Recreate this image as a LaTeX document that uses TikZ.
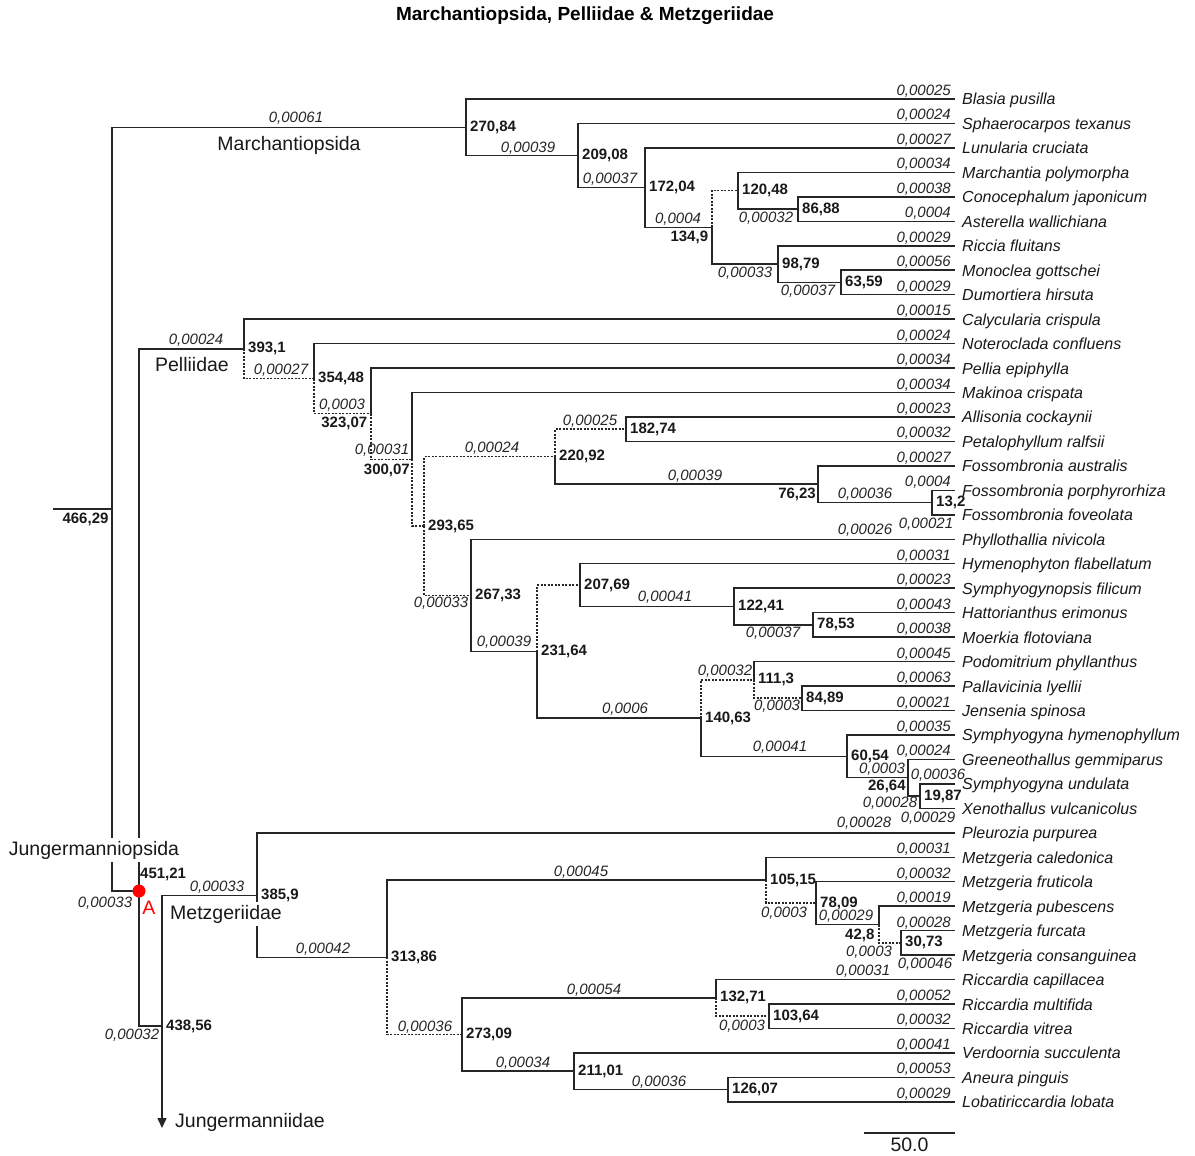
\documentclass[tikz,border=0pt]{standalone}
\usepackage{fontspec}
\setmainfont{Liberation Sans}
\usetikzlibrary{arrows.meta,positioning}

\begin{document}
\begin{tikzpicture}[x=1pt, y=-1pt,
  br/.style={line width=1.5pt, draw=black!85},
  lowsup/.style={br, dash pattern=on 2pt off 1.5pt},
  taxon/.style={font=\fontsize{16}{18}\selectfont\itshape, text=black!90, anchor=base west, inner sep=0pt},
  len/.style={font=\fontsize{15}{17}\selectfont\itshape, text=black!85, inner sep=0pt},
  boot/.style={font=\fontsize{15}{17}\selectfont\bfseries, text=black!90, inner sep=0pt},
  clade/.style={font=\fontsize{19.5}{22}\selectfont, text=black!90, fill=white, inner xsep=2pt, inner ysep=3pt}
]
\path[fill=white, use as bounding box] (0,0) rectangle (1195,1156);

\node[font=\fontsize{19}{22}\selectfont\bfseries] (title) at (585,16) {Marchantiopsida, Pelliidae \& Metzgeriidae};

% tips
\foreach \sp [count=\i] in {Blasia pusilla, Sphaerocarpos texanus, Lunularia cruciata,
  Marchantia polymorpha, Conocephalum japonicum, Asterella wallichiana, Riccia fluitans,
  Monoclea gottschei, Dumortiera hirsuta, Calycularia crispula, Noteroclada confluens,
  Pellia epiphylla, Makinoa crispata, Allisonia cockaynii, Petalophyllum ralfsii,
  Fossombronia australis, Fossombronia porphyrorhiza, Fossombronia foveolata,
  Phyllothallia nivicola, Hymenophyton flabellatum, Symphyogynopsis filicum,
  Hattorianthus erimonus, Moerkia flotoviana, Podomitrium phyllanthus, Pallavicinia lyellii,
  Jensenia spinosa, Symphyogyna hymenophyllum, Greeneothallus gemmiparus,
  Symphyogyna undulata, Xenothallus vulcanicolus, Pleurozia purpurea, Metzgeria caledonica,
  Metzgeria fruticola, Metzgeria pubescens, Metzgeria furcata, Metzgeria consanguinea,
  Riccardia capillacea, Riccardia multifida, Riccardia vitrea, Verdoornia succulenta,
  Aneura pinguis, Lobatiriccardia lobata} {
  \coordinate (L\i) at (955,{99+24.46*(\i-1)});
  \node[taxon] (t\i) at ([xshift=7pt, yshift=-6pt]L\i) {\sp};
}

% internal nodes
\coordinate (r0) at (53,509.2);
\coordinate (n466) at (112,509.2);
\coordinate (n270) at (466,127.3);
\coordinate (n209) at (578,155.6);
\coordinate (n172) at (645,187.7);
\coordinate (n134) at (712,227.4);
\coordinate (n120) at (738,190.7);
\coordinate (n86) at (798,209.0);
\coordinate (n98) at (778,264.1);
\coordinate (n63) at (841,282.5);
\coordinate (n451) at (139,891);
\coordinate (n393) at (244,348.9);
\coordinate (n354) at (314,378.6);
\coordinate (n323) at (371,413.6);
\coordinate (n300) at (412,459.3);
\coordinate (n293) at (424,526.0);
\coordinate (n220) at (555,456.7);
\coordinate (n182) at (626,429.2);
\coordinate (n76) at (818,484.2);
\coordinate (n13) at (932,502.6);
\coordinate (n267) at (471,595.4);
\coordinate (n231) at (537,651.6);
\coordinate (n207) at (580,585.1);
\coordinate (n122) at (734,606.5);
\coordinate (n78a) at (813,624.9);
\coordinate (n140) at (701,718.1);
\coordinate (n111) at (754,679.9);
\coordinate (n84) at (802,698.2);
\coordinate (n60) at (847,756.3);
\coordinate (n26) at (908,777.7);
\coordinate (n19) at (920,796.1);
\coordinate (n438) at (162,1026);
\coordinate (jung) at (162,1128);
\coordinate (n385) at (257,895.4);
\coordinate (n313) at (387,957.3);
\coordinate (n105) at (766,880.2);
\coordinate (n78b) at (816,903.1);
\coordinate (n42) at (879,924.5);
\coordinate (n30) at (901,942.8);
\coordinate (n273) at (462,1034.5);
\coordinate (n132) at (716,997.8);
\coordinate (n103) at (769,1016.2);
\coordinate (n211) at (574,1071.2);
\coordinate (n126) at (728,1089.5);

% branches
\draw[br] (r0) -- (n466);
\draw[br] (n466) |- (n270);
\draw[br] (n466) |- (n451);
% Marchantiopsida
\draw[br] (n270) |- (L1);
\draw[br] (n270) |- (n209);
\draw[br] (n209) |- (L2);
\draw[br] (n209) |- (n172);
\draw[br] (n172) |- (L3);
\draw[br] (n172) |- (n134);
\draw[lowsup] (n134) |- (n120);
\draw[br] (n134) |- (n98);
\draw[br] (n120) |- (L4);
\draw[br] (n120) |- (n86);
\draw[br] (n86) |- (L5);
\draw[br] (n86) |- (L6);
\draw[br] (n98) |- (L7);
\draw[br] (n98) |- (n63);
\draw[br] (n63) |- (L8);
\draw[br] (n63) |- (L9);
% Pelliidae
\draw[br] (n451) |- (n393);
\draw[br] (n393) |- (L10);
\draw[lowsup] (n393) |- (n354);
\draw[br] (n354) |- (L11);
\draw[lowsup] (n354) |- (n323);
\draw[br] (n323) |- (L12);
\draw[lowsup] (n323) |- (n300);
\draw[br] (n300) |- (L13);
\draw[lowsup] (n300) |- (n293);
\draw[lowsup] (n293) |- (n220);
\draw[lowsup] (n293) |- (n267);
\draw[lowsup] (n220) |- (n182);
\draw[br] (n220) |- (n76);
\draw[br] (n182) |- (L14);
\draw[br] (n182) |- (L15);
\draw[br] (n76) |- (L16);
\draw[br] (n76) |- (n13);
\draw[br] (n13) |- (L17);
\draw[br] (n13) |- (L18);
\draw[br] (n267) |- (L19);
\draw[br] (n267) |- (n231);
\draw[lowsup] (n231) |- (n207);
\draw[br] (n231) |- (n140);
\draw[br] (n207) |- (L20);
\draw[br] (n207) |- (n122);
\draw[br] (n122) |- (L21);
\draw[br] (n122) |- (n78a);
\draw[br] (n78a) |- (L22);
\draw[br] (n78a) |- (L23);
\draw[lowsup] (n140) |- (n111);
\draw[br] (n140) |- (n60);
\draw[br] (n111) |- (L24);
\draw[lowsup] (n111) |- (n84);
\draw[br] (n84) |- (L25);
\draw[br] (n84) |- (L26);
\draw[br] (n60) |- (L27);
\draw[br] (n60) |- (n26);
\draw[br] (n26) |- (L28);
\draw[br] (n26) |- (n19);
\draw[br] (n19) |- (L29);
\draw[br] (n19) |- (L30);
% Metzgeriidae
\draw[br] (n451) |- (n438);
\draw[br] (n438) |- (n385);
\draw[br, -{Triangle[width=9pt, length=10pt]}] (n438) -- (jung);
\draw[br] (n385) |- (L31);
\draw[br] (n385) |- (n313);
\draw[br] (n313) |- (n105);
\draw[lowsup] (n313) |- (n273);
\draw[br] (n105) |- (L32);
\draw[lowsup] (n105) |- (n78b);
\draw[br] (n78b) |- (L33);
\draw[br] (n78b) |- (n42);
\draw[br] (n42) |- (L34);
\draw[lowsup] (n42) |- (n30);
\draw[br] (n30) |- (L35);
\draw[br] (n30) |- (L36);
\draw[br] (n273) |- (n132);
\draw[br] (n273) |- (n211);
\draw[br] (n132) |- (L37);
\draw[lowsup] (n132) |- (n103);
\draw[br] (n103) |- (L38);
\draw[br] (n103) |- (L39);
\draw[br] (n211) |- (L40);
\draw[br] (n211) |- (n126);
\draw[br] (n126) |- (L41);
\draw[br] (n126) |- (L42);

\fill[red] (n451) circle (6.5pt);

% branch lengths at the tips
\foreach \i/\bl in {1/0{,}00025, 2/0{,}00024, 3/0{,}00027, 4/0{,}00034, 5/0{,}00038,
  6/0{,}0004, 7/0{,}00029, 8/0{,}00056, 9/0{,}00029, 10/0{,}00015, 11/0{,}00024,
  12/0{,}00034, 13/0{,}00034, 14/0{,}00023, 15/0{,}00032, 16/0{,}00027, 17/0{,}0004,
  20/0{,}00031, 21/0{,}00023, 22/0{,}00043, 23/0{,}00038, 24/0{,}00045, 25/0{,}00063,
  26/0{,}00021, 27/0{,}00035, 28/0{,}00024, 32/0{,}00031, 33/0{,}00032, 34/0{,}00019,
  35/0{,}00028, 38/0{,}00052, 39/0{,}00032, 40/0{,}00041, 41/0{,}00053, 42/0{,}00029}
  \node[len, anchor=base east] (b\i) at ([xshift=-4pt, yshift=3.5pt]L\i) {\bl};

% other branch lengths
\foreach \x/\y/\bl [count=\k] in {296/118/0{,}00061, 528/148/0{,}00039, 610/179/0{,}00037,
  678/219/0{,}0004, 745/273/0{,}00033, 766/218/0{,}00032, 808/291/0{,}00037,
  196/340/0{,}00024, 281/370/0{,}00027, 342/405/0{,}0003, 382/450/0{,}00031,
  492/448/0{,}00024, 590/421/0{,}00025, 695/476/0{,}00039, 865/494/0{,}00036,
  441/603/0{,}00033, 504/642/0{,}00039, 665/597/0{,}00041, 773/633/0{,}00037,
  625/709/0{,}0006, 725/671/0{,}00032, 777/706/0{,}0003, 780/747/0{,}00041,
  882/769/0{,}0003, 890/803/0{,}00028, 105/903/0{,}00033, 217/887/0{,}00033,
  132/1035/0{,}00032, 323/949/0{,}00042, 581/872/0{,}00045, 425/1027/0{,}00036,
  594/990/0{,}00054, 523/1063/0{,}00034, 659/1082/0{,}00036, 784/913/0{,}0003,
  846/916/0{,}00029, 869/952/0{,}0003, 742/1026/0{,}0003, 926/524/0{,}00021,
  865/530/0{,}00026, 938/775/0{,}00036, 928/818/0{,}00029, 864/823/0{,}00028,
  925/964/0{,}00046, 863/971/0{,}00031}
  \node[len] (e\k) at (\x,\y) {\bl};

% node values
\foreach \n/\s in {n270/270{,}84, n209/209{,}08, n172/172{,}04, n120/120{,}48, n86/86{,}88,
  n98/98{,}79, n63/63{,}59, n393/393{,}1, n354/354{,}48, n293/293{,}65, n220/220{,}92,
  n182/182{,}74, n13/13{,}2, n267/267{,}33, n231/231{,}64, n207/207{,}69, n122/122{,}41,
  n78a/78{,}53, n111/111{,}3, n84/84{,}89, n140/140{,}63, n60/60{,}54, n19/19{,}87,
  n385/385{,}9, n438/438{,}56, n313/313{,}86, n273/273{,}09, n105/105{,}15, n78b/78{,}09,
  n30/30{,}73, n132/132{,}71, n103/103{,}64, n211/211{,}01, n126/126{,}07}
  \node[boot, right=4pt of \n] (s-\n) {\s};
\node[boot, below left=3pt and 3.7pt of n134] (s-n134) {134,9};
\node[boot, below left=3.4pt and 3.6pt of n323] (s-n323) {323,07};
\node[boot, below left=4.2pt and 2pt of n300] (s-n300) {300,07};
\node[boot, below left=3.6pt and 2pt of n76] (s-n76) {76,23};
\node[boot, below left=1.8pt and 2.2pt of n26] (s-n26) {26,64};
\node[boot, below left=4pt and 4.4pt of n42] (s-n42) {42,8};
\node[boot, above right=9.5pt and 1pt of n451] (s-n451) {451,21};
\node[boot] (s-n466) at (85.5,519) {466,29};
\node[font=\fontsize{19.5}{22}\selectfont, text=red] (mark) at (149,908) {A};

% clades
\node[clade] (marL) at (289,145) {Marchantiopsida};
\node[clade] (pelL) at (192,365) {Pelliidae};
\node[clade] (jmpL) at (94,850) {Jungermanniopsida};
\node[clade] (metL) at (226,914) {Metzgeriidae};
\node[clade, fill=none, anchor=west] (jmdL) at (173,1122) {Jungermanniidae};

% scale
\coordinate (sb1) at (864,1133);
\coordinate (sb2) at (955,1133);
\draw[br] (sb1) -- (sb2);
\node[font=\fontsize{19.5}{22}\selectfont, text=black!90, below=1pt of sb1, xshift=45.5pt] (sbl) {50.0};
\end{tikzpicture}
\end{document}
